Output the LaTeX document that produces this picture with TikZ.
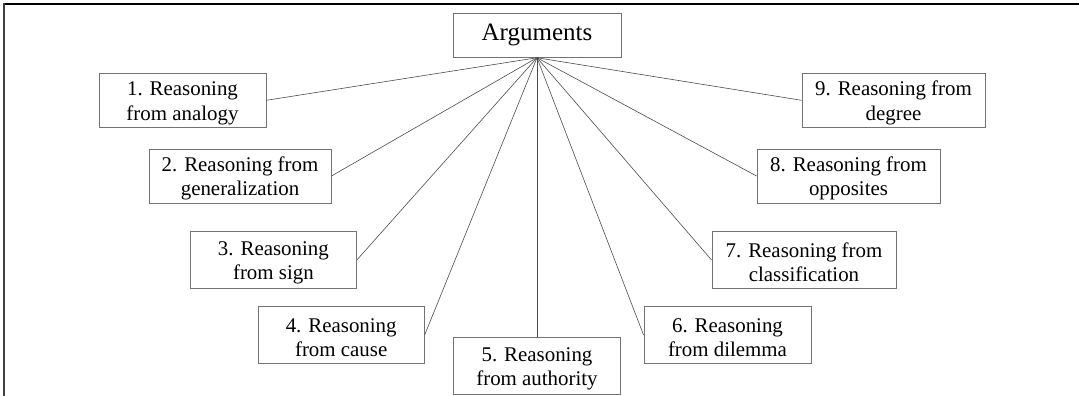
\documentclass[tikz,border=0pt]{standalone}
\usepackage{fontspec}
\setmainfont{Liberation Serif}
% tall strut on the first line: lowers the two-line text a little inside its box
\newcommand{\firstline}{\rule{0pt}{19.6pt}}
\begin{document}
\begin{tikzpicture}[x=1pt,y=-1pt,
  box/.style={draw=black!55,line width=0.9pt,rectangle,inner sep=0pt,align=center,
    font=\fontsize{20.9}{24.4}\selectfont},
  root/.style={box,font=\fontsize{25}{30}\selectfont},
  link/.style={draw=black!70,line width=0.6pt}]
\useasboundingbox (0,0) rectangle (1079,396);
% outer frame (top and left edges)
\draw[black,line width=1.6pt] (4,3.8) -- (1079,3.8);
\draw[black!75,line width=1.6pt] (4,3) -- (4,396);
% central node
\node[root,minimum width=168pt,minimum height=44pt] (arg) at (537,35.3) {Arguments};
\coordinate (hub) at (arg.south);
% kinds of reasoning
\node[box,minimum width=167pt,minimum height=54pt] (r1) at (182.5,100.3) {\firstline 1. Reasoning\\from analogy};
\node[box,minimum width=182pt,minimum height=54pt] (r2) at (240,176) {\firstline 2. Reasoning from\\generalization};
\node[box,minimum width=166pt,minimum height=56.5pt] (r3) at (273.4,260) {\firstline 3. Reasoning\\from sign};
\node[box,minimum width=166pt,minimum height=56.5pt] (r4) at (341.2,335) {\firstline 4. Reasoning\\from cause};
\node[box,minimum width=167pt,minimum height=57pt] (r5) at (537,366.2) {\firstline 5. Reasoning\\from authority};
\node[box,minimum width=167pt,minimum height=56.5pt] (r6) at (727.5,335) {\firstline 6. Reasoning\\from dilemma};
\node[box,minimum width=184pt,minimum height=56.5pt] (r7) at (804,260) {\firstline 7. Reasoning from\\classification};
\node[box,minimum width=183pt,minimum height=54pt] (r8) at (848.5,176) {\firstline 8. Reasoning from\\opposites};
\node[box,minimum width=183pt,minimum height=54pt] (r9) at (893.5,100.3) {\firstline 9. Reasoning from\\degree};
% connectors
\draw[link] (hub) -- (r1.east);
\draw[link] (hub) -- (r2.east);
\draw[link] (hub) -- (r3.east);
\draw[link] (hub) -- (r4.east);
\draw[link] (hub) -- (r5.north);
\draw[link] (hub) -- (r6.west);
\draw[link] (hub) -- (r7.west);
\draw[link] (hub) -- (r8.west);
\draw[link] (hub) -- (r9.west);
\end{tikzpicture}
\end{document}
